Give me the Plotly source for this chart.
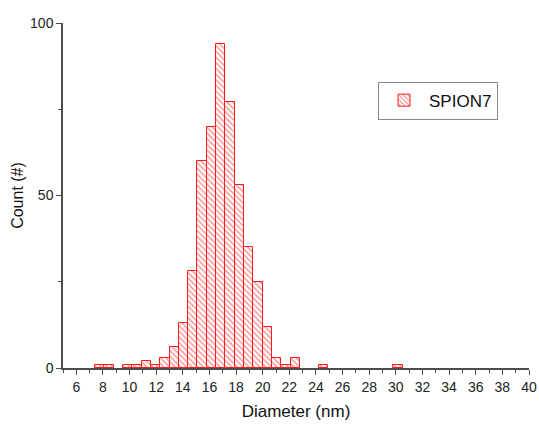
import plotly.graph_objects as go

# Histogram of particle diameters: bin left edges (nm), bin width and counts
bin_width = 0.7
bin_left = [7.4, 8.1, 9.5, 10.2, 10.9, 11.6, 12.3, 13.0, 13.7, 14.4, 15.1, 15.8,
            16.5, 17.2, 17.9, 18.6, 19.3, 20.0, 20.7, 21.4, 22.1, 24.2, 29.8]
counts = [1, 1, 1, 1, 2, 1, 3, 6, 13, 28, 60, 70,
          94, 77, 53, 35, 25, 12, 3, 1, 3, 1, 1]
series_name = "SPION7"

x_ticks = list(range(6, 41, 2))
y_ticks = [0, 50, 100]

centers = [e + bin_width / 2 for e in bin_left]

red = "#ff1a1a"
axis_col = "#4d4d4d"
font_family = "Liberation Sans, Arial, sans-serif"

fig = go.Figure()
fig.add_trace(go.Bar(
    x=centers,
    y=counts,
    width=[bin_width] * len(counts),
    name=series_name,
    showlegend=True,
    marker=dict(
        color="white",
        line=dict(color=red, width=1),
        pattern=dict(shape="\\", fgcolor=red, bgcolor="white", size=4, solidity=0.35),
    ),
))

fig.update_layout(
    width=539,
    height=432,
    autosize=False,
    margin=dict(l=63, r=10, t=23, b=64, autoexpand=False),
    plot_bgcolor="white",
    paper_bgcolor="white",
    font=dict(family=font_family, color="#222222", size=14),
    bargap=0,
    legend=dict(
        x=0.676, y=0.83, xanchor="left", yanchor="top",
        bordercolor="#888888", borderwidth=1, bgcolor="white",
        font=dict(size=17, color="#111111"),
        itemwidth=40,
        tracegroupgap=0,
    ),
)

fig.update_xaxes(
    range=[5, 40],
    tickmode="array",
    tickvals=x_ticks,
    ticks="outside",
    ticklen=5,
    tickwidth=1.2,
    tickcolor=axis_col,
    minor=dict(ticks="outside", ticklen=3, tickwidth=1.2, tickcolor=axis_col, dtick=1, tick0=5),
    showline=True,
    linecolor=axis_col,
    linewidth=1.5,
    showgrid=False,
    zeroline=False,
    automargin=False,
    tickfont=dict(size=14, color="#222222"),
    title=dict(text="Diameter (nm)", font=dict(size=17, color="#111111"), standoff=12),
)

fig.update_yaxes(
    range=[0, 100],
    tickmode="array",
    tickvals=y_ticks,
    ticks="outside",
    ticklen=5,
    tickwidth=1.2,
    tickcolor=axis_col,
    minor=dict(ticks="outside", ticklen=3, tickwidth=1.2, tickcolor=axis_col, dtick=25, tick0=0),
    showline=True,
    linecolor=axis_col,
    linewidth=1.5,
    showgrid=False,
    zeroline=False,
    automargin=False,
    tickfont=dict(size=14, color="#222222"),
    title=dict(text="Count (#)", font=dict(size=16, color="#111111"), standoff=2),
)

fig.write_html("out.html")
